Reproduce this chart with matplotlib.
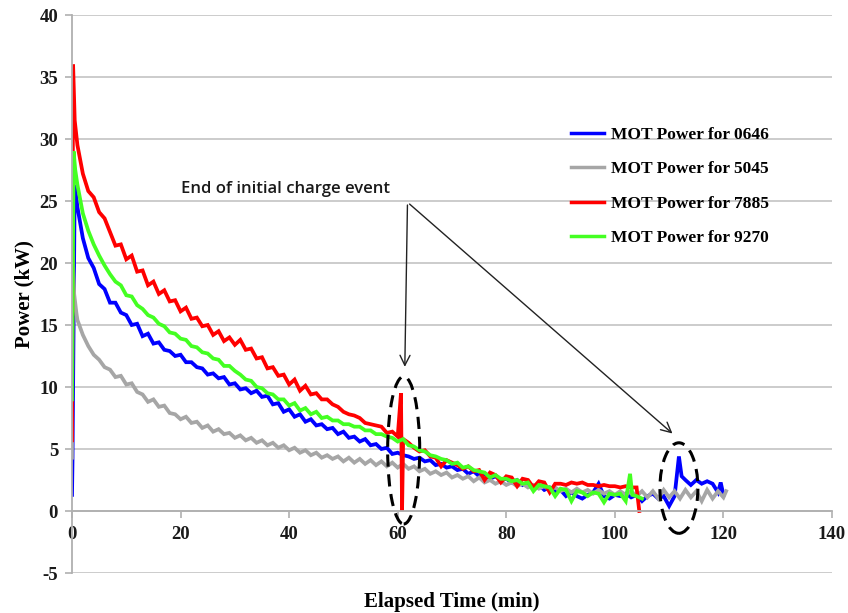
import numpy as np
import matplotlib.pyplot as plt
from matplotlib.patches import Ellipse

plt.rcParams['axes.unicode_minus'] = False

# datos (min, kW)
t_0646 = [0, 0.1, 0.5] + list(range(1, 112)) + [111.8, 112.3] + list(range(113, 119)) + [119, 119.5, 120]
p_0646 = [1.3, 4.3, 26.3,
          24.5, 22.0, 20.4, 19.6, 18.3, 17.9, 16.8, 16.8, 16.0, 15.8,
          15.0, 15.1, 14.1, 14.3, 13.5, 13.6, 13.0, 12.9, 12.5, 12.6,
          12.0, 12.0, 11.6, 11.5, 11.0, 11.1, 10.7, 10.8, 10.2, 10.3,
          9.8, 9.9, 9.5, 9.7, 9.2, 9.3, 8.6, 8.7, 8.0, 8.2,
          7.6, 7.8, 7.2, 7.4, 6.9, 7.0, 6.6, 6.7, 6.2, 6.4,
          5.9, 6.0, 5.6, 5.8, 5.3, 5.4, 5.0, 5.1, 4.6, 4.7,
          4.5, 4.4, 4.2, 4.3, 4.0, 4.1, 3.7, 3.8, 3.5, 3.6,
          3.3, 3.4, 3.0, 3.2, 2.8, 3.0, 2.6, 2.8, 2.5, 2.6,
          2.3, 2.5, 2.1, 2.3, 1.9, 2.1, 1.7, 1.9, 1.6, 1.7,
          1.2, 1.5, 1.2, 1.0, 1.3, 1.5, 2.2, 1.2, 1.0, 1.3,
          1.2, 1.4, 1.1, 1.3, 0.8, 1.2, 1.4, 1.0, 1.2, 0.4,
          1.2,
          4.4, 2.8,
          2.5, 2.1, 2.5, 2.2, 2.4, 2.2,
          1.5, 2.3, 1.3]

t_5045 = [0, 0.1, 0.4, 0.8] + list(range(1, 121)) + [120.5]
p_5045 = [4.3, 21.0, 17.5, 16.0,
          15.4, 14.2, 13.3, 12.6, 12.2, 11.6, 11.4, 10.8, 10.9, 10.2,
          10.3, 9.6, 9.4, 8.8, 9.0, 8.4, 8.5, 7.9, 7.8, 7.4,
          7.6, 7.1, 7.2, 6.7, 6.9, 6.4, 6.6, 6.2, 6.3, 5.9,
          6.1, 5.7, 5.9, 5.5, 5.7, 5.3, 5.5, 5.1, 5.3, 4.9,
          5.1, 4.7, 4.9, 4.5, 4.7, 4.3, 4.5, 4.2, 4.4, 4.0,
          4.3, 3.9, 4.2, 3.8, 4.1, 3.7, 4.0, 3.6, 3.9, 3.5,
          3.8, 3.4, 3.6, 3.2, 3.4, 3.0, 3.2, 2.9, 3.1, 2.7,
          2.9, 2.6, 2.8, 2.4, 2.7, 2.3, 2.5, 2.2, 2.4, 2.1,
          2.3, 2.0, 2.2, 1.9, 2.1, 1.8, 2.0, 1.7, 1.9, 1.6,
          1.8, 1.5, 1.8, 1.5, 1.7, 1.4, 1.7, 1.4, 1.6, 1.3,
          1.6, 1.3, 1.6, 1.2, 1.6, 1.1, 1.6, 1.0, 1.7, 1.1,
          1.6, 1.0, 1.7, 1.1, 1.6, 0.8, 1.7, 1.0, 1.6, 1.1,
          1.6]

t_7885 = [0, 0.2, 0.5] + list(range(1, 61)) + [60.6, 60.8] + list(range(61, 105)) + [104.5]
p_7885 = [5.7, 36.0, 31.5,
          29.5, 27.2, 25.8, 25.3, 24.1, 23.6, 22.5, 21.4, 21.5, 20.3,
          20.6, 19.3, 19.4, 18.2, 18.5, 17.5, 17.8, 16.9, 17.0, 16.1,
          16.4, 15.5, 15.6, 14.9, 15.0, 14.2, 14.5, 13.7, 14.0, 13.4,
          13.8, 13.0, 13.1, 12.3, 12.4, 11.5, 11.6, 10.9, 11.0, 10.2,
          10.6, 9.7, 10.1, 9.4, 9.5, 9.0, 9.0, 8.6, 8.4, 8.0,
          7.8, 7.7, 7.5, 7.1, 7.0, 6.9, 6.8, 6.3, 6.4, 6.0,
          9.5, 0.0,
          5.8, 5.5, 5.1, 4.8, 4.9, 4.4, 4.3, 3.6, 4.1, 3.9,
          3.7, 3.4, 3.6, 3.2, 3.3, 2.5, 3.1, 2.9, 2.3, 2.8,
          2.7, 2.0, 2.6, 2.5, 1.9, 2.4, 2.3, 1.5, 2.2, 2.2,
          2.1, 2.3, 2.2, 2.3, 2.1, 2.1, 2.0, 2.1, 2.0, 2.0,
          1.9, 2.0, 1.9, 1.9,
          0.0]

t_9270 = [0, 0.3, 0.6] + list(range(1, 103)) + [102.8, 103.2, 104, 105]
p_9270 = [9.0, 29.0, 27.5,
          26.3, 24.0, 22.6, 21.5, 20.6, 19.8, 19.1, 18.5, 18.2, 17.4,
          17.3, 16.6, 16.3, 15.8, 15.6, 15.1, 14.9, 14.4, 14.3, 13.9,
          13.8, 13.3, 13.2, 12.8, 12.7, 12.3, 12.2, 11.7, 11.7, 11.3,
          11.0, 10.6, 10.5, 10.0, 9.9, 9.5, 9.4, 9.0, 9.0, 8.5,
          8.7, 8.1, 8.3, 7.8, 8.0, 7.5, 7.6, 7.3, 7.3, 7.0,
          7.0, 6.8, 6.8, 6.5, 6.5, 6.2, 6.2, 6.0, 5.9, 5.6,
          5.8, 5.3, 5.2, 4.9, 4.8, 4.5, 4.4, 4.2, 4.1, 3.8,
          3.9, 3.5, 3.6, 3.3, 3.2, 3.1, 2.7, 2.9, 2.6, 2.6,
          2.4, 2.5, 2.2, 2.3, 1.6, 2.1, 2.0, 1.9, 1.2, 1.8,
          1.7, 0.8, 1.6, 1.5, 1.2, 1.5, 1.4, 0.7, 1.4, 1.3,
          1.4, 0.8,
          3.0, 1.3, 1.2, 1.0]

series = [
    (t_0646, p_0646, '#0000ff', 'MOT Power for 0646'),
    (t_5045, p_5045, '#a6a6a6', 'MOT Power for 5045'),
    (t_7885, p_7885, '#ff0000', 'MOT Power for 7885'),
    (t_9270, p_9270, '#44ff22', 'MOT Power for 9270'),
]

serif = 'Liberation Serif'
fig = plt.figure(figsize=(8.48, 6.13), dpi=100)
ax = fig.add_axes([72/848, 40/613, 760/848, 558/613])

for t, p, c, lab in series:
    ax.plot(t, p, color=c, lw=2.7, label=lab, solid_joinstyle='miter')

ax.set_xlim(0, 140)
ax.set_ylim(-5, 40)
ax.set_xticks(np.arange(0, 141, 20))
ax.set_yticks(np.arange(-5, 41, 5))
ax.grid(axis='y', color='#c8c8c8', lw=1.3)
ax.set_axisbelow(True)

# eje x cruza en cero
ax.spines['bottom'].set_position(('data', 0))
for s in ['top', 'right']:
    ax.spines[s].set_visible(False)
for s in ['bottom', 'left']:
    ax.spines[s].set_color('#b0b0b0')
    ax.spines[s].set_linewidth(1.3)
ax.tick_params(axis='both', colors='#b0b0b0', length=5, width=1.2)
ax.tick_params(axis='x', pad=6)
ax.tick_params(axis='y', pad=5)
for lbl in ax.get_xticklabels() + ax.get_yticklabels():
    lbl.set_fontfamily(serif)
    lbl.set_fontweight('bold')
    lbl.set_fontsize(13.5)
    lbl.set_color('#1a1a1a')

fig.text(452/848, 1 - 602/613, 'Elapsed Time (min)', ha='center', va='center',
         fontfamily=serif, fontweight='bold', fontsize=15)
fig.text(24/848, 1 - 294/613, 'Power (kW)', ha='center', va='center', rotation=90,
         fontfamily=serif, fontweight='bold', fontsize=15)

leg = ax.legend(loc='upper left', bbox_to_anchor=(562/848, 1 - 118/613),
                bbox_transform=fig.transFigure, frameon=False,
                prop={'family': serif, 'weight': 'bold', 'size': 12.5},
                handlelength=1.9, handletextpad=0.45, labelspacing=1.05, borderpad=0)
for h in leg.get_lines():
    h.set_linewidth(2.5)

# anotacion
ax.text(20.0, 25.3, 'End of initial charge event', fontfamily='Open Sans',
        fontweight='semibold', fontsize=12, color='#1a1a1a', va='bottom', ha='left')
ax.annotate('', xy=(61.3, 11.4), xytext=(61.8, 24.9),
            arrowprops=dict(arrowstyle='->', color='#222222', lw=1.0, mutation_scale=18))
ax.annotate('', xy=(111.0, 6.1), xytext=(61.8, 24.9),
            arrowprops=dict(arrowstyle='->', color='#222222', lw=1.0, mutation_scale=18))

ax.add_patch(Ellipse((61.1, 4.9), 5.9, 11.9, fill=False, ec='black', lw=2.2,
                     ls=(0, (4, 2.5)), zorder=5))
ax.add_patch(Ellipse((111.8, 1.85), 7.0, 7.3, fill=False, ec='black', lw=2.2,
                     ls=(0, (4, 2.5)), zorder=5))

fig.savefig('out.png', dpi=100)
